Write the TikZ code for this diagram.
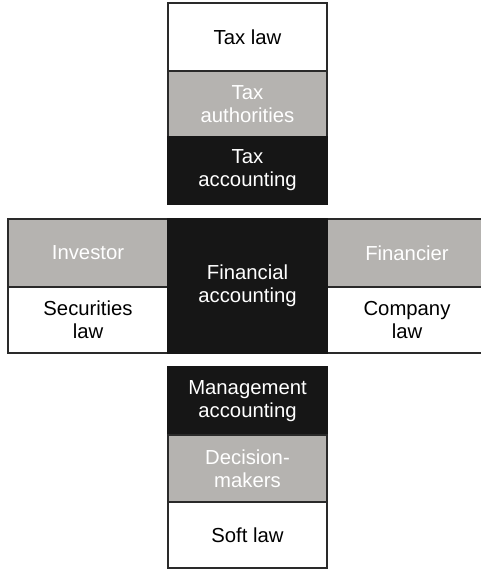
\documentclass[tikz,border=0pt]{standalone}
\usepackage{fontspec}
\setmainfont{Liberation Sans}
\definecolor{cellgrey}{HTML}{B5B3B0}
\definecolor{cellblack}{HTML}{161616}
\definecolor{linec}{HTML}{2A2A2A}
\begin{document}
\begin{tikzpicture}[x=1pt,y=-1pt,
  cell/.style={rectangle, draw=linec, line width=1.3pt, inner sep=0pt, align=center,
    font=\fontsize{20.3}{23}\selectfont},
  whitecell/.style={cell, fill=white, text=black},
  greycell/.style={cell, fill=cellgrey, text=white},
  blackcell/.style={cell, fill=cellblack, draw=cellblack, text=white},
  colw/.style={minimum width=159pt},
  sidew/.style={minimum width=160pt}]
\useasboundingbox (0,0) rectangle (480,569);
% top column
\node[whitecell, colw, minimum height=68pt] (taxlaw) at (247.5,37) {Tax law};
\node[greycell, colw, minimum height=66pt] (taxauth) at (247.5,104) {Tax\\authorities};
\node[blackcell, colw, minimum height=67pt] (taxacc) at (247.5,170.5) {Tax\\accounting};
% middle row
\node[greycell, sidew, minimum height=68pt] (investor) at (88,253) {Investor};
\node[whitecell, sidew, minimum height=66pt] (seclaw) at (88,320) {Securities\\law};
\node[greycell, sidew, minimum height=68pt] (financier) at (407,253) {Financier};
\node[whitecell, sidew, minimum height=66pt] (comlaw) at (407,320) {Company\\law};
\node[blackcell, colw, minimum height=134pt] (finacc) at (247.5,286) {Financial\\accounting};
% bottom column
\node[blackcell, colw, minimum height=68pt] (mgmt) at (247.5,401) {Management\\accounting};
\node[greycell, colw, minimum height=67pt] (decision) at (247.5,468.5) {Decision-\\makers};
\node[whitecell, colw, minimum height=66pt] (softlaw) at (247.5,535) {Soft law};
\end{tikzpicture}
\end{document}
